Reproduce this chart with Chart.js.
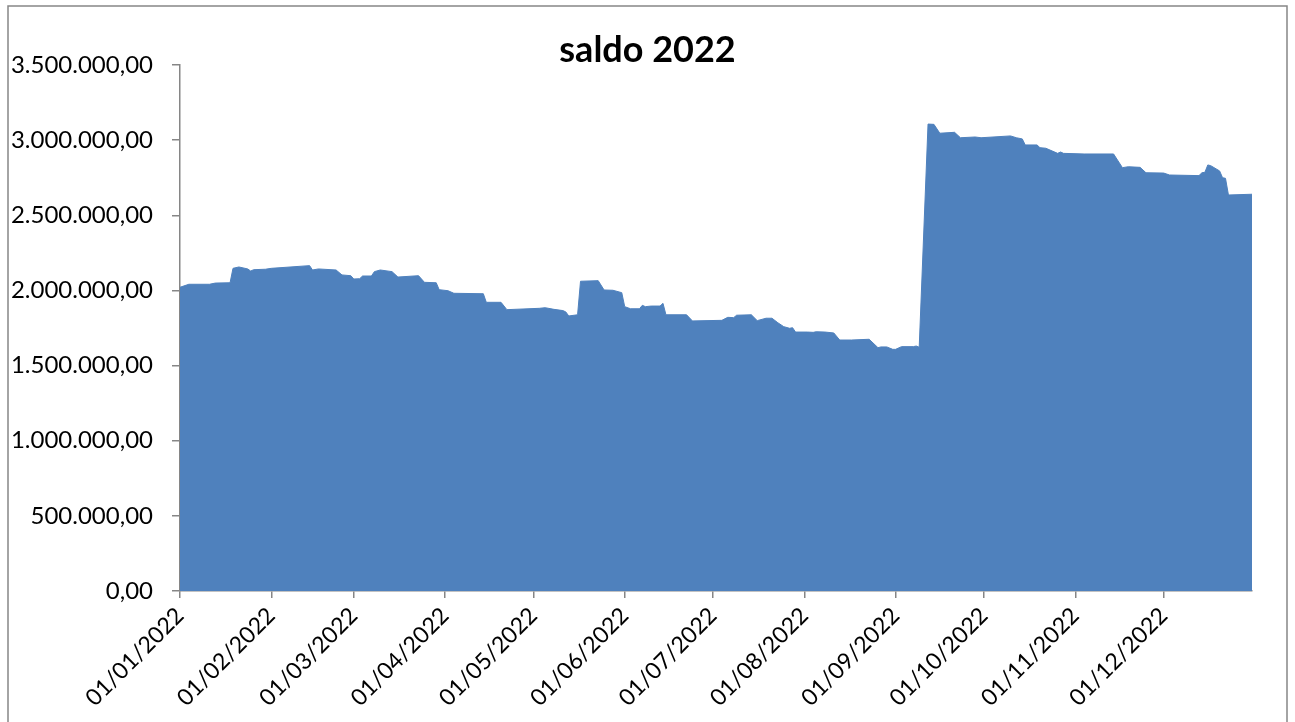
<!DOCTYPE html>
<html><head><meta charset="utf-8">
<script src="https://cdn.jsdelivr.net/npm/chart.js@4.4.1/dist/chart.umd.min.js"></script>
<style>html,body{margin:0;padding:0;background:#fff;overflow:hidden;} canvas{display:block;}</style>
</head><body>
<canvas id="c" width="1295" height="722"></canvas>
<script>
// Day of year (0 = 01/01/2022) at which the balance line changes direction
const dayIndex = [0,3,10,12,17,18,20,23,24,25,29,31,44,45,47,53,55,58,59,61,62,65,66,68,72,74,81,83,87,88,91,93,103,104,109,111,122,124,127,130,131,132,135,136,142,144,147,150,151,153,156,157,158,160,163,164,165,172,174,184,186,188,189,194,196,199,201,203,205,207,208,209,213,215,216,219,222,224,228,234,237,238,240,242,243,245,249,250,251,254,256,258,263,265,270,272,282,284,286,287,291,292,294,298,299,300,307,317,320,322,326,328,334,336,346,347,348,349,350,353,354,355,356,364];
// Balance (saldo) values at those days
const saldo = [2021000,2041000,2041000,2049000,2051000,2147000,2156000,2143000,2129000,2138000,2141000,2147000,2165000,2136000,2143000,2136000,2103000,2098000,2076000,2078000,2096000,2096000,2125000,2136000,2125000,2089000,2098000,2054000,2051000,2005000,1998000,1981000,1978000,1921000,1921000,1872000,1881000,1885000,1874000,1866000,1857000,1830000,1838000,2061000,2065000,2003000,2001000,1985000,1892000,1878000,1878000,1901000,1892000,1896000,1896000,1914000,1838000,1838000,1797000,1801000,1821000,1819000,1835000,1838000,1799000,1815000,1815000,1785000,1759000,1748000,1752000,1723000,1723000,1721000,1725000,1723000,1717000,1670000,1670000,1675000,1619000,1624000,1624000,1608000,1608000,1626000,1626000,1630000,1622000,3107000,3105000,3046000,3052000,3016000,3021000,3016000,3028000,3016000,3008000,2968000,2968000,2950000,2946000,2912000,2921000,2912000,2908000,2908000,2817000,2823000,2819000,2783000,2781000,2768000,2764000,2783000,2786000,2835000,2830000,2795000,2750000,2746000,2635000,2640000];
// X axis ticks (first day of each month)
const monthStartDays = [0,31,59,90,120,151,181,212,243,273,304,334];
const xTickLabels = ['01/01/2022','01/02/2022','01/03/2022','01/04/2022','01/05/2022','01/06/2022','01/07/2022','01/08/2022','01/09/2022','01/10/2022','01/11/2022','01/12/2022'];
// Y axis ticks
const yTickValues = [0,500000,1000000,1500000,2000000,2500000,3000000,3500000];
const yTickLabels = ['0,00','500.000,00','1.000.000,00','1.500.000,00','2.000.000,00','2.500.000,00','3.000.000,00','3.500.000,00'];

const frame = {
  id: 'frame',
  beforeDraw(chart) {
    const ctx = chart.ctx;
    ctx.save();
    ctx.fillStyle = '#fff';
    ctx.fillRect(0, 0, chart.width, chart.height);
    ctx.strokeStyle = '#868686';
    ctx.lineWidth = 1.5;
    ctx.strokeRect(8, 6, 1279, 740);
    ctx.restore();
  }
};

new Chart(document.getElementById('c'), {
  type: 'line',
  data: {
    datasets: [{
      label: 'saldo 2022',
      data: dayIndex.map((d, i) => ({ x: d, y: saldo[i] })),
      fill: 'origin',
      backgroundColor: '#4F81BD',
      borderColor: '#4F81BD',
      borderWidth: 1,
      pointRadius: 0,
      tension: 0
    }]
  },
  options: {
    responsive: false,
    animation: false,
    layout: { padding: { left: 0, right: 0, top: 0, bottom: 0 } },
    plugins: {
      legend: { display: false },
      tooltip: { enabled: false },
      title: {
        display: true, text: 'saldo 2022', color: '#000',
        font: { family: 'Lato', size: 36, weight: 'bold', lineHeight: 1 },
        padding: { top: 32, bottom: -3 }
      }
    },
    scales: {
      x: {
        type: 'linear', min: 0, max: 364,
        afterBuildTicks(s) { s.ticks = monthStartDays.map(v => ({ value: v })); },
        afterFit(s) { s.height = 131; },
        ticks: {
          autoSkip: false, maxRotation: 45, minRotation: 45, color: '#000',
          font: { family: 'Lato', size: 23 }, padding: 4,
          callback(v) { const i = monthStartDays.indexOf(v); return i >= 0 ? xTickLabels[i] : ''; }
        },
        grid: { drawOnChartArea: false, drawTicks: true, tickLength: 7, color: '#868686', lineWidth: 1.5 },
        border: { display: true, color: '#868686', width: 1.5 }
      },
      y: {
        min: 0, max: 3500000,
        afterBuildTicks(s) { s.ticks = yTickValues.map(v => ({ value: v })); },
        afterFit(s) { s.width = 180; },
        ticks: {
          color: '#000', font: { family: 'Lato', size: 24 }, padding: 19,
          callback(v) { const i = yTickValues.indexOf(v); return i >= 0 ? yTickLabels[i] : ''; }
        },
        grid: { drawOnChartArea: false, drawTicks: true, tickLength: 8, color: '#868686', lineWidth: 1.5 },
        border: { display: true, color: '#868686', width: 1.5 }
      },
      yRight: {
        position: 'right', min: 0, max: 3500000,
        afterFit(s) { s.width = 43; },
        ticks: { display: false },
        grid: { display: false, drawTicks: false },
        border: { display: false }
      }
    }
  },
  plugins: [frame]
});
</script>
</body></html>
